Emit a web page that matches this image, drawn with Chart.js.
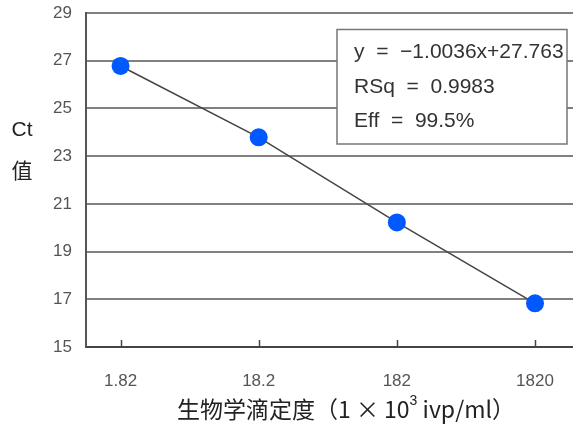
<!DOCTYPE html>
<html>
<head>
<meta charset="utf-8">
<script src="https://cdn.jsdelivr.net/npm/chart.js@4"></script>
<style>
html,body{margin:0;padding:0;background:#fff;}
#wrap{width:573px;height:427px;position:relative;}
</style>
</head>
<body>
<div id="wrap"><canvas id="c" width="573" height="427"></canvas></div>
<script>
const categories = ['1.82', '18.2', '182', '1820'];
const ctValues = [26.78, 23.79, 20.22, 16.83];
const yTicks = [15, 17, 19, 21, 23, 25, 27, 29];
const boxLines = ['y = \u22121.0036x+27.763', 'RSq = 0.9983', 'Eff = 99.5%'];
const yTitleLines = ['Ct', '值'];
const xTitleParts = ['生物学滴定度（1 × 10', '3', ' ivp/ml）'];

const LATIN = '"Liberation Sans", Arial, sans-serif';
const CJK = '"Noto Sans CJK SC", "Liberation Sans", sans-serif';

const decor = {
  id: 'decor',
  afterDatasetsDraw(chart) {
    const {ctx, chartArea, scales} = chart;
    ctx.save();
    ctx.strokeStyle = '#444';
    ctx.lineWidth = 1.5;
    categories.forEach((c, i) => {
      const x = Math.round(scales.x.getPixelForValue(i)) + 0.5;
      ctx.beginPath();
      ctx.moveTo(x, chartArea.bottom);
      ctx.lineTo(x, chartArea.bottom - 7);
      ctx.stroke();
    });
    const bx = 337, by = 29.5, bw = 230, bh = 114.5;
    ctx.fillStyle = '#fff';
    ctx.fillRect(bx, by, bw, bh);
    ctx.strokeStyle = '#777';
    ctx.lineWidth = 1.5;
    ctx.strokeRect(bx, by, bw, bh);
    ctx.fillStyle = '#333';
    ctx.font = '21px ' + LATIN;
    ctx.textBaseline = 'middle';
    ctx.textAlign = 'left';
    boxLines.forEach((t, i) => {
      ctx.fillText(t.replace(/ = /g, '  =  '), 354, 52 + i * 34.8);
    });
    ctx.restore();
  },
  afterDraw(chart) {
    const {ctx} = chart;
    ctx.save();
    ctx.fillStyle = '#222';
    ctx.textBaseline = 'middle';
    ctx.textAlign = 'center';
    ctx.font = '21px ' + LATIN;
    ctx.fillText(yTitleLines[0], 22, 130);
    ctx.font = '21px ' + CJK;
    ctx.fillText(yTitleLines[1], 22, 170);
    ctx.textAlign = 'left';
    ctx.font = '23px ' + CJK;
    const w1 = ctx.measureText(xTitleParts[0]).width;
    ctx.font = '14px ' + LATIN;
    const w2 = ctx.measureText(xTitleParts[1]).width;
    ctx.font = '23px ' + CJK;
    const w3 = ctx.measureText(xTitleParts[2]).width;
    const total = w1 + w2 + w3;
    let x = 346 - total / 2;
    const y = 409;
    ctx.fillText(xTitleParts[0], x, y);
    x += w1;
    ctx.font = '14px ' + LATIN;
    ctx.fillText(xTitleParts[1], x, y - 8);
    x += w2;
    ctx.font = '23px ' + CJK;
    ctx.fillText(xTitleParts[2], x, y);
    ctx.restore();
  }
};

new Chart(document.getElementById('c'), {
  type: 'scatter',
  data: {
    datasets: [{
      data: ctValues.map((v, i) => ({x: i, y: v})),
      showLine: true,
      borderColor: '#444',
      borderWidth: 1.5,
      pointRadius: 9,
      pointHoverRadius: 9,
      pointBackgroundColor: '#0058ff',
      pointBorderColor: '#0058ff',
      pointBorderWidth: 0
    }]
  },
  options: {
    responsive: false,
    animation: false,
    events: [],
    layout: {autoPadding: false, padding: {left: 0, right: 0, top: 13, bottom: 0}},
    plugins: {legend: {display: false}, tooltip: {enabled: false}},
    scales: {
      x: {
        type: 'linear',
        min: -0.25,
        max: 3.275,
        afterBuildTicks(s) { s.ticks = categories.map((c, i) => ({value: i})); },
        afterFit(s) { s.height = 80; s.paddingLeft = 0; s.paddingRight = 0; },
        grid: {display: false},
        border: {display: true, color: '#444', width: 2},
        ticks: {
          callback: (v) => categories[v],
          color: '#555',
          font: {size: 17, family: LATIN},
          padding: 16,
          maxRotation: 0
        }
      },
      y: {
        min: 15,
        max: 29,
        afterBuildTicks(s) { s.ticks = yTicks.map(v => ({value: v})); },
        afterFit(s) { s.width = 86; s.paddingTop = 0; s.paddingBottom = 0; },
        grid: {color: '#808080', lineWidth: 2, drawTicks: false},
        border: {display: true, color: '#555', width: 2},
        ticks: {
          color: '#555',
          font: {size: 17, family: LATIN},
          padding: 14
        }
      }
    }
  },
  plugins: [decor]
});
</script>
</body>
</html>
